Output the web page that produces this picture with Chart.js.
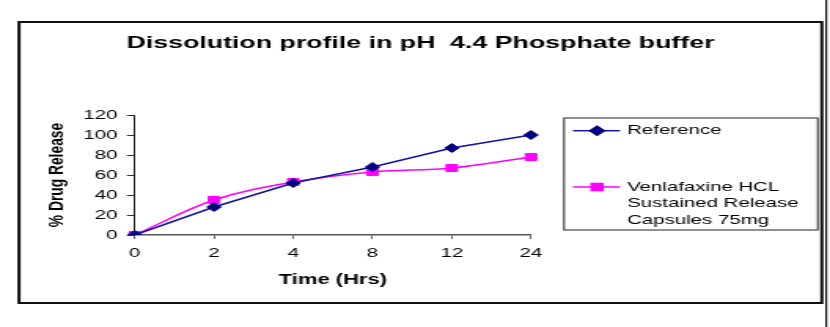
<!DOCTYPE html>
<html>
<head>
<meta charset="utf-8">
<title>Dissolution profile</title>
<script src="https://cdn.jsdelivr.net/npm/chart.js@4.4.0/dist/chart.umd.min.js"></script>
<style>
    html, body { margin: 0; padding: 0; background: #fff; overflow: hidden; }
    #wrap { width: 830px; height: 327px; }
    /* the chart is laid out narrow and stretched out sideways */
    #myChart { transform: scaleX(1.572); transform-origin: 0 0; }
</style>
</head>
<body>
<div id="wrap"><canvas id="myChart" width="528" height="327"></canvas></div>
<script>
const chartTitle = 'Dissolution profile in pH  4.4 Phosphate buffer';
const xTitle = 'Time (Hrs)';
const yTitle = '% Drug Release';
const timePoints = ['0', '2', '4', '8', '12', '24'];
const referenceRelease = [0, 28, 52, 68, 87, 100];
const capsuleRelease = [0, 35, 53, 63, 67, 78];
const seriesNames = [
    ['Reference'],
    ['Venlafaxine HCL', 'Sustained Release', 'Capsules 75mg']
];
const yTicks = [0, 20, 40, 60, 80, 100, 120];

const FONT = "'Liberation Sans', Arial, sans-serif";

// frame, title, rotated y title and the boxed legend
const decorations = {
    id: 'decorations',
    beforeDraw(chart) {
        const ctx = chart.ctx;
        ctx.save();
        ctx.strokeStyle = '#111';
        ctx.lineWidth = 2;
        ctx.strokeRect(12.1, 22, 510.7, 281);
        ctx.lineWidth = 1.2;
        ctx.beginPath();
        ctx.moveTo(525.6, 0);
        ctx.lineTo(525.6, 327);
        ctx.stroke();
        ctx.restore();
    },
    afterDraw(chart) {
        const ctx = chart.ctx;
        ctx.save();
        ctx.fillStyle = '#000';
        ctx.textAlign = 'center';
        ctx.textBaseline = 'middle';
        ctx.font = 'bold 17px ' + FONT;
        ctx.fillText(chartTitle, 267.5, 43);

        ctx.save();
        ctx.translate(36.8, 175);
        ctx.rotate(-Math.PI / 2);
        ctx.scale(1.15, 1);
        ctx.font = 'bold 12px ' + FONT;
        ctx.fillText(yTitle, 0, 0);
        ctx.restore();

        // legend box
        ctx.strokeStyle = '#222';
        ctx.lineWidth = 1;
        ctx.strokeRect(358.8, 118, 161.4, 112);
        const rowY = [130.7, 187];
        chart.data.datasets.forEach((ds, i) => {
            const y = rowY[i];
            ctx.strokeStyle = ds.borderColor;
            ctx.lineWidth = ds.borderWidth;
            ctx.beginPath();
            ctx.moveTo(364.5, y);
            ctx.lineTo(394.4, y);
            ctx.stroke();
            ctx.fillStyle = ds.pointBackgroundColor;
            ctx.strokeStyle = ds.pointBorderColor;
            Chart.helpers.drawPoint(ctx, {
                pointStyle: ds.pointStyle,
                radius: ds.pointRadius,
                borderWidth: ds.pointBorderWidth,
                rotation: 0
            }, 379.8, y);
            ctx.fillStyle = '#000';
            ctx.textAlign = 'left';
            ctx.font = '13px ' + FONT;
            seriesNames[i].forEach((line, j) => ctx.fillText(line, 398.9, y + j * 16.8));
        });
        ctx.restore();
    }
};

const ctx = document.getElementById('myChart').getContext('2d');

let myChart = new Chart(ctx, {
    type: 'line',
    data: {
        labels: timePoints,
        datasets: [{
            label: seriesNames[0].join(' '),
            data: referenceRelease,
            borderColor: '#1414a0',
            borderWidth: 1.5,
            pointStyle: 'rectRot',
            pointRadius: 4.5,
            pointBackgroundColor: '#000080',
            pointBorderColor: '#000080',
            pointBorderWidth: 1,
            tension: 0
        }, {
            label: seriesNames[1].join(' '),
            data: capsuleRelease,
            borderColor: '#ff00ff',
            borderWidth: 1.5,
            pointStyle: 'rect',
            pointRadius: 5,
            pointBackgroundColor: '#ff00ff',
            pointBorderColor: '#ff00ff',
            pointBorderWidth: 1,
            tension: 0.35
        }]
    },
    options: {
        responsive: false,
        animation: false,
        events: [],
        layout: {
            padding: { left: 47, right: 190.2, top: 115, bottom: 38.6 }
        },
        plugins: {
            legend: { display: false },
            title: { display: false },
            tooltip: { enabled: false }
        },
        scales: {
            x: {
                type: 'category',
                offset: false,
                grid: {
                    drawOnChartArea: false,
                    drawTicks: true,
                    tickLength: 4,
                    color: '#666'
                },
                border: { color: '#555', width: 1.5 },
                ticks: {
                    color: '#000',
                    font: { family: FONT, size: 13 },
                    padding: 7,
                    maxRotation: 0,
                    autoSkip: false
                },
                title: {
                    display: true,
                    text: xTitle,
                    color: '#000',
                    font: { family: FONT, size: 14, weight: 'bold' },
                    padding: { top: 3, bottom: 0 }
                }
            },
            y: {
                min: 0,
                max: 120,
                afterBuildTicks: scale => {
                    scale.ticks = yTicks.map(v => ({ value: v }));
                },
                grid: {
                    drawOnChartArea: false,
                    drawTicks: true,
                    tickLength: 5,
                    color: '#333'
                },
                border: { color: '#222', width: 1 },
                ticks: {
                    color: '#000',
                    font: { family: FONT, size: 13 },
                    padding: 6
                }
            }
        }
    },
    plugins: [decorations]
});
</script>
</body>
</html>
